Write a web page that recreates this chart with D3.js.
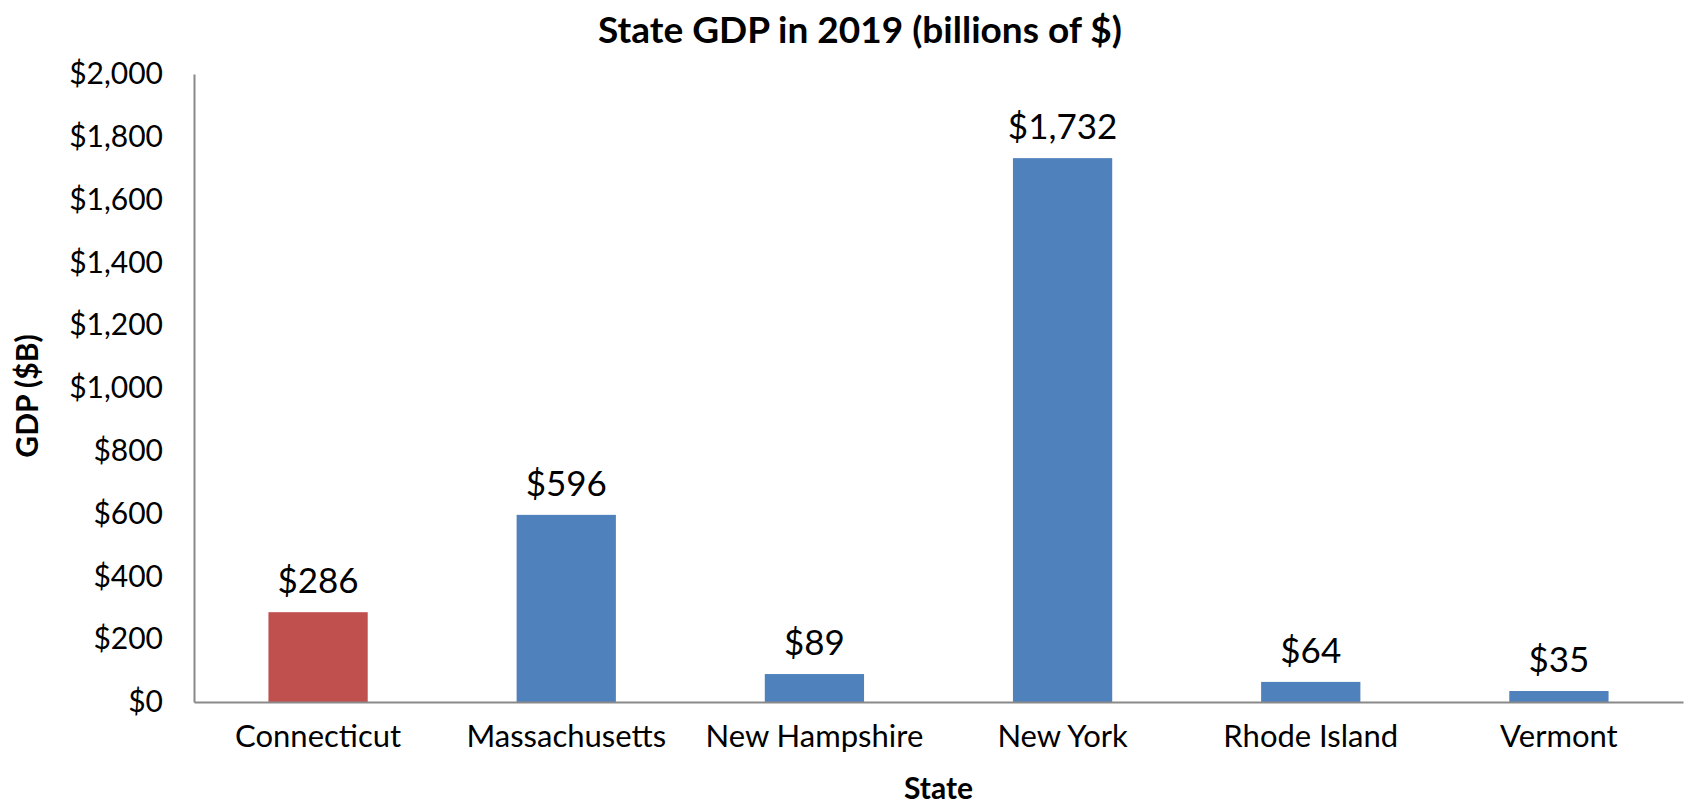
<!DOCTYPE html>
<html>
<head>
<meta charset="utf-8">
<script src="https://cdn.jsdelivr.net/npm/d3@7"></script>
<style>
  html, body { margin: 0; padding: 0; background: #fff; }
  svg { display: block; font-family: Lato, "Open Sans", sans-serif; }
  .axis path { stroke: #898989; stroke-width: 2; }
  .axis text { fill: #000; }
</style>
</head>
<body>
<svg id="chart" width="1684" height="806"></svg>
<script>
// chart data
const states = ['Connecticut', 'Massachusetts', 'New Hampshire', 'New York', 'Rhode Island', 'Vermont'];
const gdp = [286, 596, 89, 1732, 64, 35];
const highlight = ['Connecticut'];
const yTicks = [0, 200, 400, 600, 800, 1000, 1200, 1400, 1600, 1800, 2000];

const width = 1684;
const height = 806;
const margin = { top: 74, right: 1, bottom: 104, left: 194 };
const font = 'Lato, "Open Sans", sans-serif';

const svg = d3.select('#chart');

let x = d3
  .scaleBand()
  .domain(states)
  .range([margin.left, width - margin.right])
  .paddingInner(0.6)
  .paddingOuter(0.3);

let y = d3
  .scaleLinear()
  .domain([0, 2000])
  .range([height - margin.bottom, margin.top]);

let money = d3.format('$,');

// bars
svg
  .append('g')
  .selectAll('rect')
  .data(states)
  .enter()
  .append('rect')
  .attr('x', d => x(d))
  .attr('width', x.bandwidth())
  .attr('y', (d, i) => y(gdp[i]))
  .attr('height', (d, i) => y(0) - y(gdp[i]))
  .attr('fill', d => (highlight.includes(d) ? '#C0504D' : '#4F81BD'));

// value labels
svg
  .append('g')
  .selectAll('text')
  .data(states)
  .enter()
  .append('text')
  .attr('x', d => x(d) + x.bandwidth() / 2)
  .attr('y', (d, i) => y(gdp[i]) - 19)
  .attr('text-anchor', 'middle')
  .style('font-size', '35px')
  .text((d, i) => money(gdp[i]));

// y axis
let yAxis = svg
  .append('g')
  .attr('class', 'axis')
  .attr('transform', 'translate(' + margin.left + ',0)')
  .call(
    d3
      .axisLeft(y)
      .tickValues(yTicks)
      .tickSize(0)
      .tickPadding(31)
      .tickFormat(money)
  )
  .attr('font-family', font);
yAxis.selectAll('text').style('font-size', '30px');

// x axis
let xAxis = svg
  .append('g')
  .attr('class', 'axis')
  .attr('transform', 'translate(0,' + y(0) + ')')
  .call(d3.axisBottom(x).tickSize(0).tickPadding(23))
  .attr('font-family', font);
xAxis.selectAll('text').style('font-size', '31px');

// titles
svg
  .append('text')
  .attr('x', 860)
  .attr('y', 43)
  .attr('text-anchor', 'middle')
  .style('font-size', '37px')
  .style('font-weight', 'bold')
  .text('State GDP in 2019 (billions of $)');

svg
  .append('text')
  .attr('x', (margin.left + width - margin.right) / 2)
  .attr('y', 799)
  .attr('text-anchor', 'middle')
  .style('font-size', '30px')
  .style('font-weight', 'bold')
  .text('State');

svg
  .append('text')
  .attr('transform', 'translate(38,396) rotate(-90)')
  .attr('text-anchor', 'middle')
  .style('font-size', '30px')
  .style('font-weight', 'bold')
  .text('GDP ($B)');
</script>
</body>
</html>
